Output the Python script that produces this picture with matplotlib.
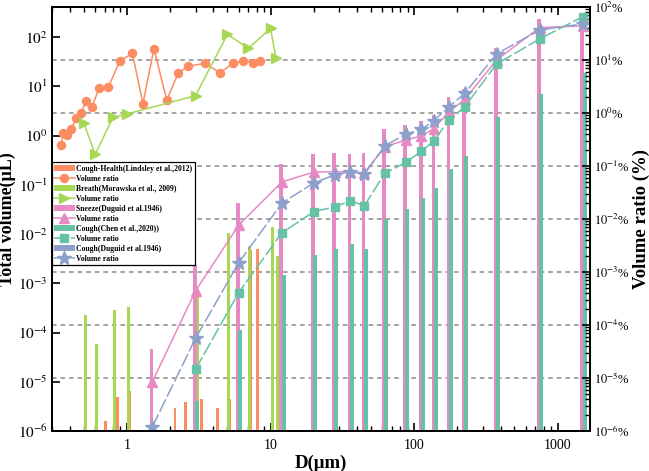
import numpy as np
import matplotlib
matplotlib.use('Agg')
import matplotlib.pyplot as plt
from matplotlib.transforms import blended_transform_factory
from matplotlib.ticker import LogLocator, FuncFormatter, NullFormatter, NullLocator, FixedLocator
from matplotlib.patches import Patch

plt.rcParams['font.family'] = ['Liberation Serif', 'DejaVu Serif']
plt.rcParams['mathtext.fontset'] = 'stix'

c_orange = '#FC8D62'
c_green = '#A6D854'
c_pink = '#E78AC3'
c_teal = '#66C2A5'
c_blue = '#8DA0CB'

# Cough-Health (Lindsley et al., 2012)
lind_bar_d = [0.61, 0.71, 0.86, 1.05, 2.16, 2.56, 3.31, 4.26, 5.2, 6.2, 7.3, 8.1]
lind_bar_v = [1.5e-6, 1.6e-6, 5e-6, 6.5e-6, 3e-6, 3.9e-6, 4.5e-6, 3e-6, 4.5e-6, 5e-6, 4.8e-3, 5e-3]
lind_ratio_d = [0.347, 0.36, 0.38, 0.41, 0.44, 0.475, 0.52, 0.57, 0.64, 0.74, 0.89, 1.09,
                1.29, 1.54, 1.89, 2.28, 2.67, 3.48, 4.45, 5.5, 6.46, 7.5, 8.45]
lind_ratio = [0.252, 0.425, 0.385, 0.50, 0.79, 0.99, 1.68, 1.31, 3.0, 3.05, 9.6, 13.4,
              1.5, 16.3, 1.76, 5.75, 7.6, 8.67, 5.75, 8.8, 9.6, 8.9, 9.6]

# Breath (Morawska et al., 2009)
mor_d = [0.5, 0.6, 0.8, 1.0, 3.0, 5.0, 7.0, 10.0, 10.9]
mor_v = [2.27e-4, 5.8e-5, 2.9e-4, 3.3e-4, 7.3e-4, 1.05e-2, 5.6e-3, 1.37e-2, 3.6e-3]
mor_ratio = [0.64, 0.168, 0.83, 0.96, 2.12, 30.5, 16.6, 39.6, 10.8]

# Duguid 1946 size bins
duguid_d = [1.5, 3, 6, 12, 20, 28, 36, 45, 62.5, 87.5, 112.5, 137.5, 175, 225, 375, 750, 1500]
sneeze_v = [4.7e-5, 2.3e-3, 0.042, 0.27, 0.42, 0.45, 0.43, 0.45, 1.34, 1.63, 1.97, 2.6,
            5.97, 8.7, 60.7, 232, 243]
sneeze_ratio = [8.5e-6, 4.4e-4, 7.7e-3, 0.050, 0.077, 0.078, 0.078, 0.074, 0.23, 0.31,
                0.37, 0.51, 1.06, 1.8, 10, 41, 44]
dcough_ratio = [1.2e-6, 5.6e-5, 1.5e-3, 0.020, 0.048, 0.068, 0.078, 0.070, 0.24, 0.40,
                0.49, 0.72, 1.31, 2.35, 13, 37, 48]

# Cough (Chen et al., 2020)
chen_d = [3, 6, 12, 20, 28, 36, 45, 62.5, 87.5, 112.5, 137.5, 175, 225, 375, 750, 1500]
chen_v = [4e-6, 1.1e-4, 1.5e-3, 3.75e-3, 4.9e-3, 6.2e-3, 4.9e-3, 0.020, 0.033, 0.055,
          0.085, 0.206, 0.38, 2.34, 6.96, 18.3]
chen_ratio = [1.46e-5, 4.1e-4, 5.5e-3, 0.0137, 0.017, 0.022, 0.0178, 0.073, 0.117, 0.19,
              0.30, 0.74, 1.31, 8.4, 25, 66]

PX_PER_DEC = 143.5


def logbar(ax, d, v, wdec, shift_px, color, zorder=2):
    d = np.asarray(d, float)
    c = d * 10 ** (shift_px / PX_PER_DEC)
    left = c * 10 ** (-wdec / 2)
    width = c * (10 ** (wdec / 2) - 10 ** (-wdec / 2))
    return ax.bar(left, v, width=width, align='edge', color=color, linewidth=0, zorder=zorder)


fig = plt.figure(figsize=(6.49, 4.71), dpi=100)
ax1 = fig.add_axes([0.0801, 0.0849, 0.829, 0.9002])
ax2 = ax1.twinx()

ax1.set_xscale('log')
ax1.set_yscale('log')
ax2.set_yscale('log')
ax1.set_xlim(0.30, 1680)
ax1.set_ylim(1e-6, 10 ** 2.61)
ax2.set_ylim(1e-6, 1e2)

# grid lines at right-axis decades, drawn behind bars
gtrans = blended_transform_factory(ax1.transAxes, ax2.transData)
ax1.hlines([1e-5, 1e-4, 1e-3, 1e-2, 1e-1, 1e0, 1e1], 0, 1, transform=gtrans,
           colors='#8a8a8a', linestyles=(0, (3, 2.6)), linewidth=1.1, zorder=1)

# bars
b_or = logbar(ax1, lind_bar_d, lind_bar_v, 0.018, 0, c_orange)
b_gr = logbar(ax1, mor_d, mor_v, 0.021, 1.5, c_green)
b_pk = logbar(ax1, duguid_d, sneeze_v, 0.0244, -0.7, c_pink)
b_tl = logbar(ax1, chen_d, chen_v, 0.028, 1.6, c_teal)

# ratio lines
l_or, = ax2.plot(lind_ratio_d, lind_ratio, '-o', color=c_orange, ms=5.8, lw=1.1, mec=c_orange)
l_gr, = ax2.plot(mor_d, mor_ratio, '->', color=c_green, ms=7.5, lw=1.1)
l_pk, = ax2.plot(duguid_d, sneeze_ratio, '-^', color=c_pink, ms=7.5, lw=1.1)
l_tl, = ax2.plot(chen_d, chen_ratio, '-s', color=c_teal, ms=5.5, lw=1.1, ls=(0, (9, 2)))
l_bl, = ax2.plot(duguid_d, dcough_ratio, '-*', color=c_blue, ms=10, lw=1.1, ls=(0, (9, 2)))

# ticks
ax1.xaxis.set_major_locator(FixedLocator([1, 10, 100, 1000]))
ax1.xaxis.set_major_formatter(FuncFormatter(lambda v, p: '%d' % v))
ax1.xaxis.set_minor_locator(LogLocator(base=10, subs=np.arange(2, 10), numticks=20))
ax1.xaxis.set_minor_formatter(NullFormatter())
ax1.yaxis.set_major_locator(FixedLocator([10.0 ** k for k in range(-6, 3)]))
ax1.yaxis.set_minor_locator(NullLocator())
ax1.yaxis.set_major_formatter(FuncFormatter(lambda v, p: r'$10^{%d}$' % round(np.log10(v))))
ax2.yaxis.set_major_locator(FixedLocator([10.0 ** k for k in range(-6, 3)]))
ax2.yaxis.set_minor_locator(LogLocator(base=10, subs=np.arange(2, 10), numticks=20))
ax2.yaxis.set_minor_formatter(NullFormatter())
ax2.yaxis.set_major_formatter(FuncFormatter(lambda v, p: r'$10^{%d}$%%' % round(np.log10(v))))

ax1.tick_params(axis='x', which='both', direction='in', top=True, bottom=True, labelsize=10, pad=6)
ax1.tick_params(axis='x', which='major', length=6, width=1.2)
ax1.tick_params(axis='x', which='minor', length=3.5, width=1.0)
ax1.tick_params(axis='y', which='major', direction='in', length=6, width=1.2, labelsize=11, pad=3)
ax2.tick_params(axis='y', which='major', direction='in', length=6, width=1.2, labelsize=9, pad=3)
ax2.tick_params(axis='y', which='minor', direction='in', length=3.5, width=1.0)

for ax in (ax1, ax2):
    for s in ax.spines.values():
        s.set_linewidth(1.4)

ax1.set_xlabel('D(μm)', fontsize=13.5, fontweight='bold', labelpad=2)
ax1.set_ylabel('Total volume(μL)', fontsize=13, fontweight='bold')
ax1.yaxis.set_label_coords(-0.066, 0.5)
ax2.set_ylabel('Volume ratio (%)', fontsize=13.5, fontweight='bold', labelpad=2)

p_bl = Patch(facecolor=c_blue, edgecolor='none')
handles = [b_or, l_or, b_gr, l_gr, b_pk, l_pk, b_tl, l_tl, p_bl, l_bl]
labels = ['Cough-Health(Lindsley et al.,2012)', 'Volume ratio',
          'Breath(Morawska et al., 2009)', 'Volume ratio',
          'Sneeze(Duguid et al.1946)', 'Volume ratio',
          'Cough(Chen et al.,2020))', 'Volume ratio',
          'Cough(Duguid et al.1946)', 'Volume ratio']
leg = ax2.legend(handles, labels, loc='upper left', bbox_to_anchor=(0.0, 0.634),
                 borderaxespad=0, fancybox=False, framealpha=1, edgecolor='black',
                 prop={'size': 5.6, 'weight': 'bold'}, handlelength=2.6, handleheight=0.9,
                 handletextpad=0.25, labelspacing=0.26, borderpad=0.3, numpoints=1)
leg.get_frame().set_linewidth(0.9)
leg.set_zorder(10)

fig.savefig('out.png', dpi=100)
